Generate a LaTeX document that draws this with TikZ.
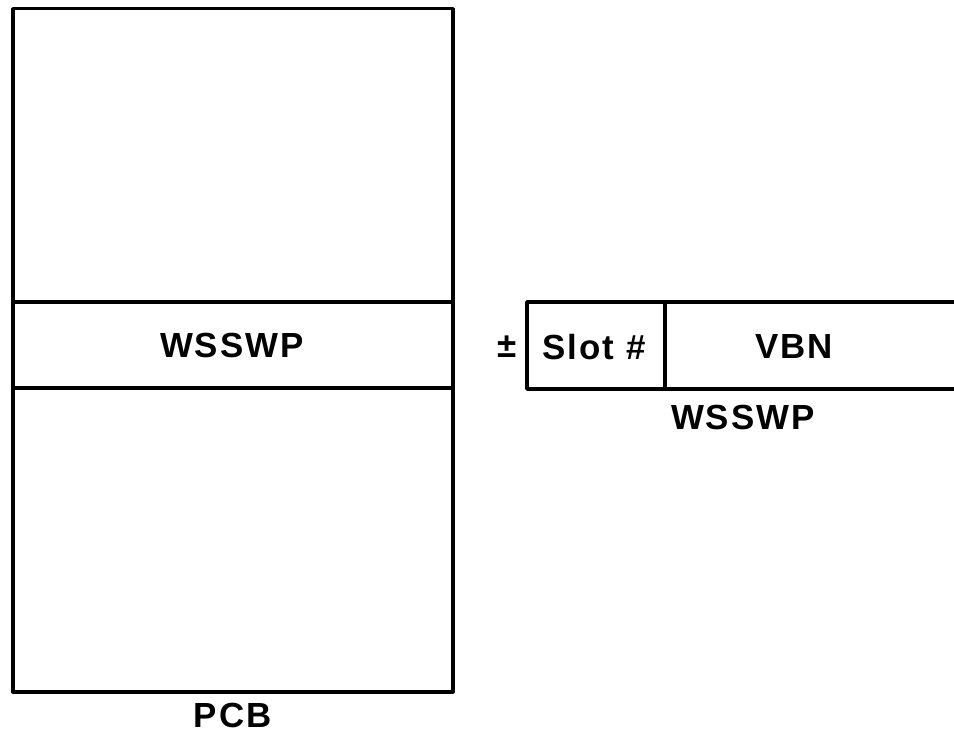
\documentclass[tikz,border=0pt]{standalone}
\usepackage{fontspec}
\setsansfont{Liberation Sans}
\usetikzlibrary{positioning}

\begin{document}
\begin{tikzpicture}[x=1bp,y=-1bp,
box/.style={draw, line width=3.5bp, line join=round, inner sep=0pt},
lbl/.style={inner sep=0pt, font=\sffamily\bfseries\fontsize{35}{40}\selectfont\addfontfeatures{LetterSpace=6}}]
\useasboundingbox (0,0) rectangle (954,738);
% PCB
\node[box, anchor=north west, minimum width=440bp, minimum height=683bp] (pcb) at (11,7) {};
\coordinate (pcbtopl) at (11,302);
\coordinate (pcbtopr) at (451,302);
\coordinate (pcbbotl) at (11,388);
\coordinate (pcbbotr) at (451,388);
\draw[box] (pcbtopl) -- (pcbtopr) (pcbbotl) -- (pcbbotr);
\node[lbl] (pcbfield) at (232,345) {WSSWP};
\node[lbl, below=9bp of pcb] (pcbname) {PCB};
% WSSWP
\coordinate (wtopr) at (954,302);
\coordinate (wtopl) at (527,302);
\coordinate (wbotl) at (527,389);
\coordinate (wbotr) at (954,389);
\coordinate (wdivt) at (665,302);
\coordinate (wdivb) at (665,389);
\draw[box] (wtopr) -- (wtopl) -- (wbotl) -- (wbotr);
\draw[box] (wdivt) -- (wdivb);
\node[lbl] (slot) at (594,347) {Slot \#};
\node[lbl] (vbn) at (794,347) {VBN};
\node[lbl, left=10bp of wtopl |- slot] (sign) {±};
\node[lbl] (wname) at (743,417) {WSSWP};
\end{tikzpicture}
\end{document}
